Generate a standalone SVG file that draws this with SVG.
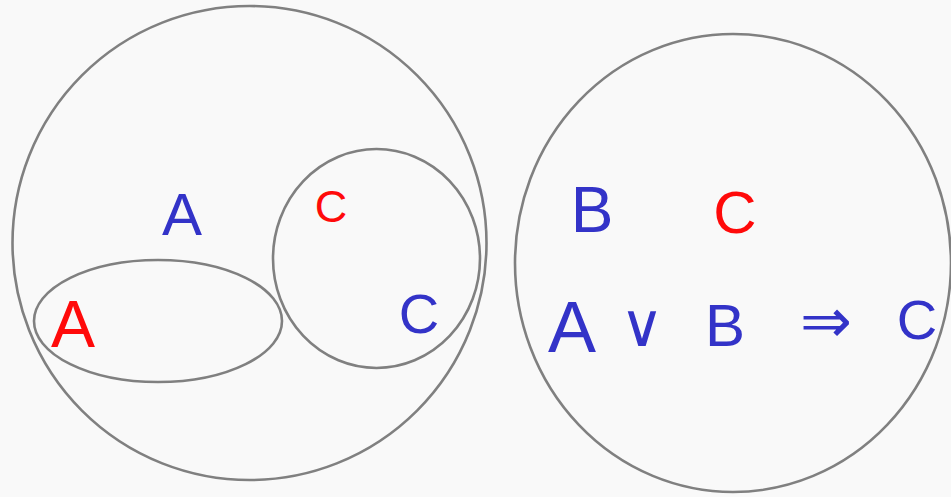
<svg xmlns="http://www.w3.org/2000/svg" width="951" height="497" viewBox="0 0 951 497">
<style>
.sh{fill:none;stroke:#808080;stroke-width:2.6}
.t{font-family:"Liberation Sans","DejaVu Sans",sans-serif;text-anchor:middle}
.b{fill:#3333c8}
.r{fill:#ff0a0a}
</style>
<rect width="951" height="497" fill="#f9f9f9"/>
<g id="set-outer-left"><circle class="sh" cx="249.5" cy="243" r="237"/></g>
<g id="set-a"><ellipse class="sh" cx="158" cy="321" rx="124" ry="61"/><text class="t r" x="73" y="347" font-size="66">A</text></g>
<g id="set-c"><ellipse class="sh" cx="376.5" cy="258.5" rx="103.5" ry="109.5"/><text class="t r" x="331" y="222" font-size="45">C</text><text class="t b" x="419" y="333" font-size="56">C</text></g>
<g id="label-a"><text class="t b" x="182" y="235" font-size="60">A</text></g>
<g id="set-outer-right"><ellipse class="sh" cx="733" cy="263" rx="218" ry="229"/></g>
<g id="label-b"><text class="t b" x="592" y="232" font-size="64">B</text></g>
<g id="label-c-right"><text class="t r" x="735" y="233" font-size="60">C</text></g>
<g id="formula">
<text class="t b" x="572" y="352" font-size="72">A</text>
<text class="t b" x="642" y="346" font-size="60">∨</text>
<text class="t b" x="725" y="346" font-size="60">B</text>
<text class="t b" x="826" y="342" font-size="62">⇒</text>
<text class="t b" x="917" y="339" font-size="56">C</text>
</g>
</svg>
